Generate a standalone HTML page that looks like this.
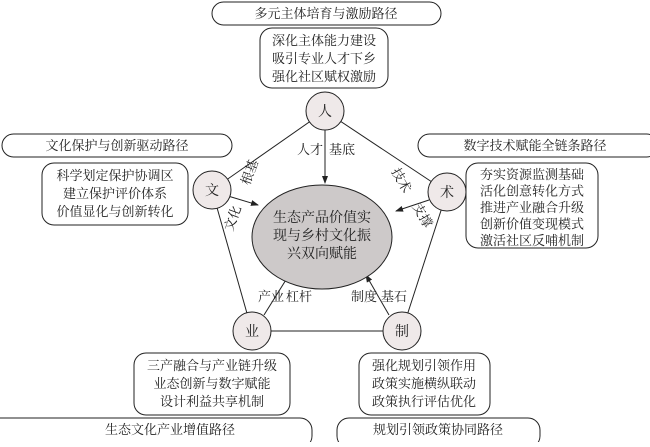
<!DOCTYPE html>
<html><head><meta charset="utf-8"><style>
body{margin:0;background:#fff;width:650px;height:442px;overflow:hidden}
svg text{font-family:"Liberation Serif","Noto Serif CJK SC",serif;fill:#222}
</style></head><body>
<svg width="650" height="442" viewBox="0 0 650 442" xmlns="http://www.w3.org/2000/svg">
<defs><marker id="a" markerWidth="8" markerHeight="8" refX="7" refY="4" orient="auto" markerUnits="userSpaceOnUse"><path d="M0,1 L8,4 L0,7 z" fill="#222"/></marker></defs>
<g stroke="#222" stroke-width="1" fill="none">
<line x1="325" y1="111" x2="212" y2="190"/>
<line x1="325" y1="111" x2="447" y2="192"/>
<line x1="212" y1="190" x2="252" y2="331"/>
<line x1="447" y1="192" x2="402" y2="331"/>
<line x1="252" y1="331" x2="402" y2="331"/>
<line x1="325" y1="130" x2="325" y2="183" marker-end="url(#a)"/>
<line x1="228" y1="196" x2="258" y2="205" marker-end="url(#a)"/>
<line x1="429" y1="200" x2="396" y2="211" marker-end="url(#a)"/>
<line x1="264" y1="315" x2="289" y2="275" marker-end="url(#a)"/>
<line x1="389" y1="315" x2="366" y2="275" marker-end="url(#a)"/>
<rect x="212" y="2" width="229" height="23" rx="11.5"/>
<rect x="260" y="28" width="128" height="60" rx="12"/>
<rect x="2" y="134" width="230" height="23" rx="11.5"/>
<rect x="42" y="163" width="146" height="62" rx="12"/>
<rect x="418" y="134" width="240" height="23" rx="11.5"/>
<rect x="466" y="163" width="132" height="85" rx="12"/>
<rect x="134" y="353" width="156" height="62" rx="12"/>
<rect x="359" y="353" width="131" height="62" rx="12"/>
<rect x="-20" y="418" width="332" height="30" rx="12"/>
<rect x="337" y="418" width="203" height="30" rx="12"/>
</g>
<ellipse cx="322" cy="237" rx="70" ry="52" fill="#cdc9c9" stroke="#222"/>
<g fill="#efe9e9" stroke="#222">
<circle cx="325" cy="111" r="19"/><circle cx="212" cy="190" r="19"/><circle cx="447" cy="192" r="19"/><circle cx="252" cy="331" r="19"/><circle cx="402" cy="331" r="19"/>
</g>
<g font-size="14" text-anchor="middle">
<text x="325" y="116">人</text><text x="212" y="195">文</text><text x="447" y="197">术</text><text x="252" y="336">业</text><text x="402" y="336">制</text>
</g>
<g font-size="13" text-anchor="middle">
<text x="326" y="18">多元主体培育与激励路径</text>
<text x="324" y="45">深化主体能力建设</text><text x="324" y="63">吸引专业人才下乡</text><text x="324" y="81">强化社区赋权激励</text>
<text x="117" y="150">文化保护与创新驱动路径</text>
<text x="115" y="180">科学划定保护协调区</text><text x="115" y="198">建立保护评价体系</text><text x="115" y="216">价值显化与创新转化</text>
<text x="535" y="150">数字技术赋能全链条路径</text>
<text x="532" y="179">夯实资源监测基础</text><text x="532" y="195.5">活化创意转化方式</text><text x="532" y="212">推进产业融合升级</text><text x="532" y="228.5">创新价值变现模式</text><text x="532" y="245">激活社区反哺机制</text>
<text x="212" y="370">三产融合与产业链升级</text><text x="212" y="388">业态创新与数字赋能</text><text x="212" y="406">设计利益共享机制</text>
<text x="424" y="370">强化规划引领作用</text><text x="424" y="388">政策实施横纵联动</text><text x="424" y="406">政策执行评估优化</text>
<text x="170" y="434">生态文化产业增值路径</text>
<text x="438" y="434">规划引领政策协同路径</text>
<text x="322" y="222" font-size="14">生态产品价值实</text><text x="322" y="240" font-size="14">现与乡村文化振</text><text x="322" y="258" font-size="14">兴双向赋能</text>
<text x="310" y="154">人才</text><text x="342" y="154">基底</text>
<text x="271" y="301">产业</text><text x="299" y="301">杠杆</text>
<text x="364" y="301">制度</text><text x="394" y="301">基石</text>
<text transform="translate(249,172) rotate(-70)" y="5">根基</text>
<text transform="translate(232,218) rotate(-70)" y="5">文化</text>
<text transform="translate(402,180) rotate(60)" y="5">技术</text>
<text transform="translate(423,215) rotate(60)" y="5">支撑</text>
</g>
</svg>
</body></html>
